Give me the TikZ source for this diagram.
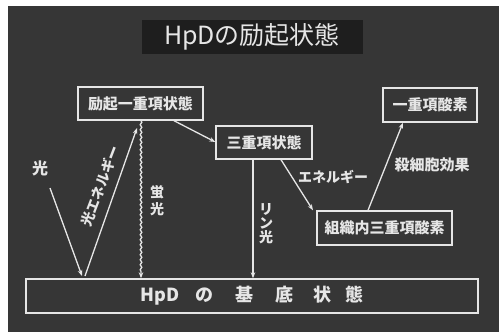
\documentclass[tikz,border=0pt]{standalone}
\usepackage{fontspec}
\newfontfamily\jp{Noto Sans CJK JP}
\usetikzlibrary{arrows.meta,decorations.pathmorphing}
\definecolor{bg}{HTML}{363636}
\definecolor{fg}{HTML}{E6E6E6}
\definecolor{tbg}{HTML}{1E1E1E}
\tikzset{
  statebox/.style={draw=fg, line width=1.4pt, text=fg, font=\jp\bfseries\fontsize{15}{16}\selectfont, inner sep=0pt, anchor=center},
  conn/.style={draw=fg, line width=1.3pt, -{Stealth[length=6pt,width=4.5pt]}},
  lbl/.style={text=fg, font=\jp\bfseries\fontsize{14}{15}\selectfont, inner sep=0pt},
  vlbl/.style={lbl, align=center, font=\jp\bfseries\fontsize{14}{14}\selectfont}
}
\begin{document}
\begin{tikzpicture}[x=1pt,y=-1pt]
\useasboundingbox (0,0) rectangle (499,332);
\fill[white] (0,0) rectangle (499,332);
\fill[bg] (8,6) rectangle (499,332);
\fill[tbg] (142,20) rectangle (363,54);
\node[text=fg, font=\jp\fontsize{25}{26}\selectfont, inner sep=0pt] (title) at (252,37) {HpDの励起状態};

\node[statebox, minimum width=125pt, minimum height=33pt] (s1) at (140.5,103.5) {励起一重項状態};
\node[statebox, minimum width=94pt, minimum height=34pt] (o1) at (430,105) {一重項酸素};
\node[statebox, minimum width=96pt, minimum height=33pt] (t) at (264,142.5) {三重項状態};
\node[statebox, minimum width=135pt, minimum height=34pt] (o3) at (384.5,228) {組織内三重項酸素};
\node[statebox, minimum width=452pt, minimum height=34pt, font=\jp\bfseries\fontsize{18}{19}\selectfont] (g) at (252,296) {HpD\hspace{16pt}の\hspace{22pt}基\hspace{22pt}底\hspace{20pt}状\hspace{14pt}態};

\coordinate (lightstart) at (50,188);
\coordinate (lightend) at (82,276);
\coordinate (energystart) at (85,276);
\coordinate (energyend) at (137,128);

\draw[conn] (lightstart) -- (lightend);
\draw[conn] (energystart) -- (energyend);
\draw[conn, decorate, decoration={snake, amplitude=0.8pt, segment length=5pt, post length=6pt}] (s1.south -| 141,0) -- (g.north -| 141,0);
\draw[conn] (s1.south -| 174,0) -- (t.west |- 0,142);
\draw[conn] (t.south -| 253,0) -- (g.north -| 253,0);
\draw[conn] (t.south -| 281,0) -- (o3.north -| 313,0);
\draw[conn] (o3.north -| 368,0) -- (o1.south -| 403,0);

\node[lbl, font=\jp\bfseries\fontsize{16}{16}\selectfont] (lhikari) at (40,168) {光};
\node[lbl, rotate=69] (lkoe) at (100,186) {光エネルギー};
\node[vlbl] (lkei) at (157,201) {蛍\\[3pt]光};
\node[vlbl] (lrin) at (266,224) {リ\\ン\\光};
\node[lbl] (lene) at (333,177) {エネルギー};
\node[lbl, font=\jp\bfseries\fontsize{15}{16}\selectfont] (lsatsu) at (432,165) {殺細胞効果};
\end{tikzpicture}
\end{document}
